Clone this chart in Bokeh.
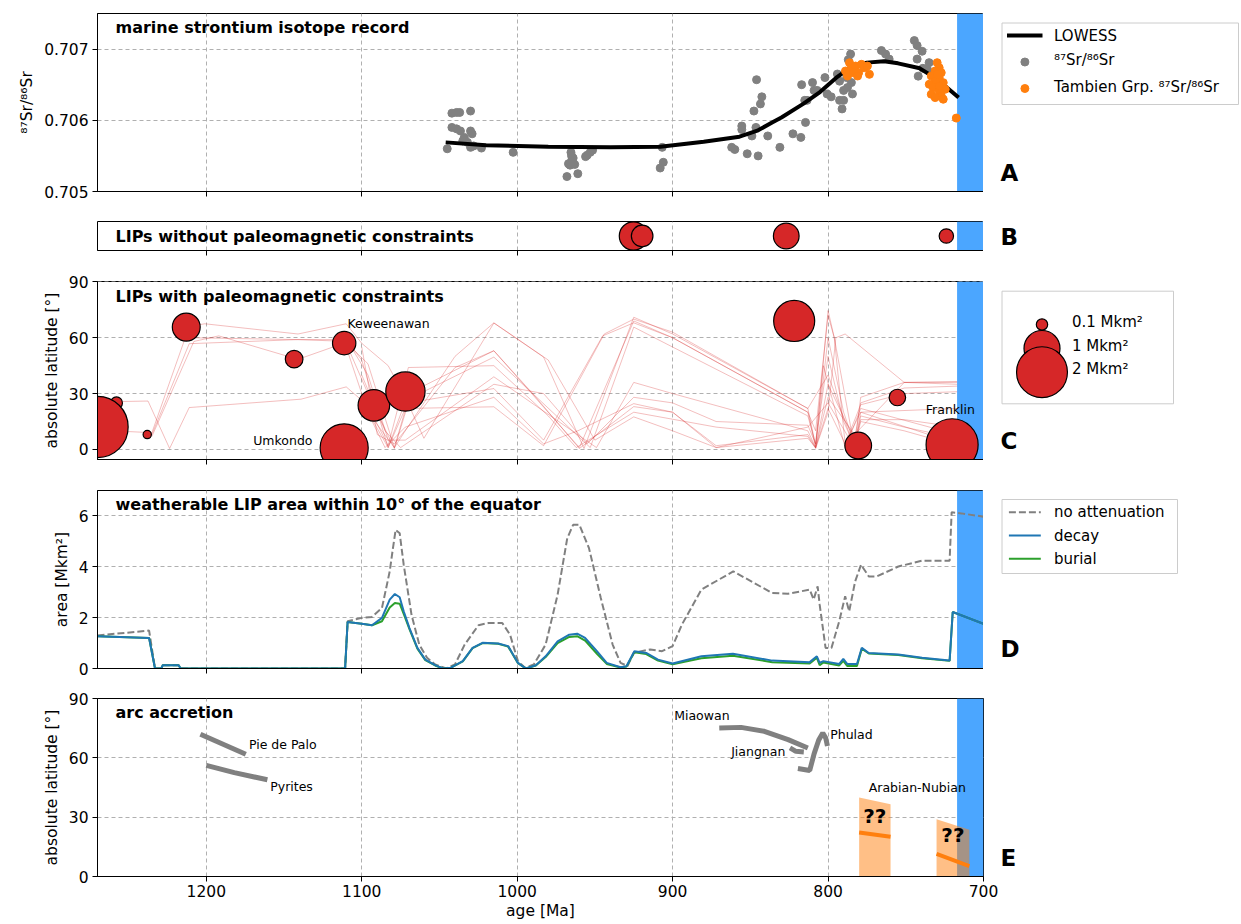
import numpy as np
from bokeh.plotting import figure
from bokeh.models import Range1d, FixedTicker, Label, BoxAnnotation
from bokeh.layouts import column, row
from bokeh.embed import file_html
from bokeh.resources import INLINE

FONT = "DejaVu Sans"
AGE_MAX, AGE_MIN = 1270, 700
AGE_TICKS = [1200, 1100, 1000, 900, 800, 700]
ICE_START, ICE_END = 717, 700
FW = 886
LEFT = 97
PAGE_W = 1241
MAIN_W = LEFT + FW

# ---------------- Panel A: strontium ----------------
lowess_age = [1046, 1020, 980, 940, 908, 880, 857, 845, 836, 830, 816, 805, 794, 785,
              775, 764, 755, 741, 730, 716]
lowess_sr = [0.70569, 0.70565, 0.70563, 0.70562, 0.70563, 0.70570, 0.70577, 0.70586,
             0.70597, 0.70604, 0.70623, 0.70640, 0.70661, 0.70675, 0.70681, 0.70683,
             0.70680, 0.70673, 0.70658, 0.70632]

sr_age = [1045, 1042, 1039, 1037, 1030, 1042, 1039, 1036.5, 1030, 1029, 1034, 1032, 1030,
          1028, 1023, 1035, 1002.6,
          968, 965.4, 965, 964, 967, 966, 963, 961, 955, 953, 951.5, 956, 965,
          906.7, 906, 908, 862, 860, 855.5, 855.5, 852, 845, 849, 846.4, 847.7, 843.5,
          842.6, 846, 838.8, 831, 822.6, 817.5, 814.5, 817, 815, 813.5, 810, 809, 807,
          802, 800.6, 798, 794, 792.6, 791, 790, 787.5, 785.5, 785, 790, 792.6, 784.3,
          787, 786, 788, 765.7, 763, 760.7, 744.5, 742.7, 739.5, 742.7, 739, 742, 736, 735]
sr_val = [0.70560, 0.70610, 0.70611, 0.70611, 0.70613, 0.70590, 0.70588, 0.70585, 0.70585,
          0.70581, 0.70576, 0.70569, 0.70562, 0.70564, 0.70561, 0.70571, 0.70555,
          0.70521, 0.70555, 0.70550, 0.70547, 0.70539, 0.70537, 0.70538, 0.70525, 0.70551,
          0.70555, 0.70558, 0.70549, 0.70543,
          0.70562, 0.70541, 0.70533, 0.70562, 0.70559, 0.70592, 0.70587, 0.70553, 0.70550,
          0.70578, 0.70590, 0.70613, 0.70623, 0.70633, 0.70657, 0.70578, 0.70562, 0.70581,
          0.70576, 0.70597, 0.70650, 0.70628, 0.70628, 0.70653, 0.70642, 0.70642, 0.70660,
          0.70637, 0.70633, 0.70665, 0.70655, 0.70616, 0.70642, 0.70646, 0.70693, 0.70653,
          0.70628, 0.70628, 0.70637, 0.70685, 0.70670, 0.70660, 0.70698, 0.70693, 0.70686,
          0.70712, 0.70705, 0.70697, 0.70686, 0.70673, 0.70662, 0.70671, 0.70681]

tam_age = [788.8, 786.2, 784.9, 782.3, 780.3, 778.5, 776.7, 774.7, 773.4, 787.5, 783.6, 781.0,
           729.8, 728.5, 731.1, 727.2, 733.6, 728.5, 731.1, 725.9, 734.9, 732.4, 724.6,
           728.5, 733.6, 727.2, 731.1, 725.9, 728.5, 729.8, 717.5]
tam_val = [0.706692, 0.706808, 0.706739, 0.706762, 0.706669, 0.706786, 0.706739, 0.706762,
           0.706646, 0.706622, 0.706669, 0.706622,
           0.706809, 0.706739, 0.706692, 0.706669, 0.706622, 0.706599, 0.706552, 0.706529,
           0.706506, 0.706459, 0.706436, 0.706413, 0.706366, 0.706343, 0.706319, 0.706296,
           0.706483, 0.706646, 0.706031]

legA_labels = ["LOWESS", "⁸⁷Sr/⁸⁶Sr", "Tambien Grp. ⁸⁷Sr/⁸⁶Sr"]

# ---------------- Panel B: LIPs without paleomag ----------------
lipB_age = [925.2, 919.6, 826.9, 723.9]
lipB_area = [0.62, 0.36, 0.51, 0.16]

# ---------------- Panel C: LIPs with paleomag ----------------
lipC_age = [1257.8, 1270, 1238, 1212.9, 1143.5, 1111.3, 1111.3, 1092.2, 1071.9,
            821.8, 780.6, 755.4, 720.2]
lipC_lat = [25, 12.1, 8, 65.7, 48.5, 57.1, 0.9, 23.7, 31.1, 69, 2.1, 27.9, 2.5]
lipC_area = [0.11, 2.9, 0.053, 0.6, 0.24, 0.42, 1.78, 0.77, 1.19, 1.30, 0.55, 0.21, 2.09]

path_age = [
    [1270, 1237.5, 1223.6, 1211, 1139, 1110, 1100, 1085, 1072, 1015, 983, 961, 925, 900, 872, 813, 808, 800, 789, 779, 751, 717],
    [1270, 1235, 1211, 1201, 1141, 1110, 1100, 1083, 1072, 1060, 1015, 983, 957, 925, 900, 813, 808, 800, 796, 783, 779, 751, 717],
    [1235, 1211, 1141, 1110, 1100, 1083, 1070, 1015, 960, 925, 900, 813, 808, 800, 790, 783, 779, 751, 717],
    [1235, 1208, 1192, 1141, 1110, 1096, 1079, 1070, 1015, 953, 925, 900, 813, 808, 803, 789, 779, 717],
    [1211, 1141, 1109, 1096, 1083, 1072, 1015, 949, 925, 900, 813, 808, 800, 783, 779, 751, 717],
    [1110, 1096, 1079, 1070, 1015, 983, 945, 925, 900, 813, 808, 800, 796, 789, 779, 717],
    [1110, 1096, 1083, 1072, 1015, 983, 944, 925, 900, 813, 800, 783, 779, 751, 717],
    [1100, 1090, 1079, 1040, 1015, 990, 960, 925, 900, 872, 813, 808, 800, 783, 751, 717],
    [1100, 1083, 1070, 1015, 980, 962, 925, 872, 813, 808, 800, 795, 789, 751, 717],
    [1096, 1079, 1072, 1040, 1015, 980, 950, 944, 925, 900, 872, 813, 800, 783, 779, 751, 717],
    [1100, 1085, 1075, 1015, 983, 955, 925, 900, 872, 813, 808, 800, 790, 783, 779, 717],
]
path_lat = [
    [25.5, 26, 0.5, 22.5, 27, 33.6, 26.4, 1, 12, 28, 3, 10, 24.6, 20, 2, 8, 1, 22, 3, 24, 30, 31],
    [10.4, 9, 66, 67.5, 62, 67.5, 57, 45, 28, 6, 67.9, 49.6, 0.5, 71, 62, 22, 2, 74.6, 60, 1, 28, 36, 36.5],
    [8, 56.8, 59, 59, 48, 1, 30, 53, 1, 69, 60, 20, 1, 60, 20, 3, 16, 16, 12],
    [7, 58, 61, 48.4, 57.5, 46, 1, 27, 49.6, 1, 65.7, 55, 18, 3, 45, 1, 22, 8],
    [60, 59, 58, 40, 5, 5, 39, 1, 36, 30, 10, 1, 35, 5, 25, 33, 34],
    [57, 30, 0.5, 25, 32.7, 5, 61, 68, 60, 20, 10, 72, 60, 3, 20, 3],
    [55, 20, 1, 22, 22.9, 2, 62, 70, 63, 22, 40, 1, 18, 12, 6],
    [55, 8, 3, 44, 53, 30, 0.5, 23, 20, 1, 6, 1, 28, 8, 36, 36],
    [30, 2, 44, 45, 18, 1, 20, 12, 7, 0.5, 20, 60, 62, 36, 35],
    [20, 1, 10, 50, 68, 48, 5, 8, 17.5, 10, 1, 12, 25, 1, 15, 10, 2],
    [40, 10, 1, 35, 30, 3, 28, 25, 15, 13, 3, 50, 15, 2, 20, 22],
]

size_key_area = [0.1, 1, 2]
size_key_label = ["0.1 Mkm²", "1 Mkm²", "2 Mkm²"]

# ---------------- Panel D: weatherable area ----------------
noatt_age = [1270, 1236.8, 1233, 1229, 1228, 1217.8, 1216.5, 1110.7, 1109.1, 1100, 1093.4, 1087,
             1082, 1080, 1078.2, 1075.6, 1073, 1068, 1063, 1058, 1052.8, 1045.7, 1040, 1033.8,
             1024.9, 1018.5, 1009.6, 1004.6, 999.5, 995, 989.3, 981.7, 974, 967.8, 964, 960,
             953.8, 946.2, 938.6, 933.5, 929, 925, 914.4, 906.8, 900, 894, 881.5, 861, 836,
             825.7, 811.8, 809.3, 806.7, 805.4, 801.6, 797.8, 792.8, 789, 786.4, 782.6, 778.8,
             773.8, 768.7, 754.8, 739.5, 721.8, 720.5, 714.2, 700]
noatt_val = [1.30, 1.49, 0.0, 0.0, 0.13, 0.13, 0.0, 0.0, 1.86, 1.99, 2.03, 2.38,
             3.82, 4.70, 5.45, 5.32, 4.08, 2.12, 0.94, 0.42, 0.16, 0.0, 0.16, 0.94,
             1.70, 1.79, 1.79, 1.33, 0.29, 0.03, 0.16, 0.94, 2.90, 5.12, 5.65, 5.65,
             4.73, 2.77, 0.94, 0.22, 0.10, 0.62, 0.75, 0.68, 0.88, 1.73, 3.10, 3.82, 2.97,
             2.94, 3.10, 2.71, 3.23, 2.51, 0.81, 0.81, 1.86, 2.84, 2.25, 3.42, 4.08,
             3.62, 3.62, 4.01, 4.24, 4.24, 6.14, 6.10, 5.97]

decay_age = [1270, 1236.8, 1233, 1229, 1228, 1217.8, 1216.5, 1110.7, 1109.1, 1100, 1093.4, 1087,
             1082, 1078.7, 1075.6, 1073, 1069.3, 1064.2, 1059.1, 1052.8, 1047.7, 1042.6, 1035,
             1028.7, 1022.3, 1012.2, 1005.8, 999.5, 994.4, 988, 981.7, 974, 966.5, 961.4, 956.3,
             948.7, 942.4, 933.5, 929.7, 924.6, 917, 909.4, 900, 881.5, 861.2, 835.9, 811.8,
             807.2, 805.4, 803, 792.8, 790.2, 787.7, 781.4, 778.3, 773.8, 754.8, 739.5, 721.8,
             719.8, 700]
decay_val = [1.27, 1.20, 0.0, 0.0, 0.13, 0.13, 0.0, 0.0, 1.83, 1.76, 1.70, 1.99,
             2.71, 2.93, 2.80, 2.25, 1.59, 0.81, 0.35, 0.13, 0.0, 0.03, 0.29,
             0.81, 1.01, 0.98, 0.88, 0.22, 0.0, 0.13, 0.48, 1.07, 1.33, 1.37, 1.20,
             0.68, 0.22, 0.05, 0.09, 0.68, 0.61, 0.35, 0.20, 0.48, 0.58, 0.31, 0.25,
             0.48, 0.22, 0.29, 0.18, 0.38, 0.18, 0.18, 0.81, 0.61, 0.55, 0.42, 0.31,
             2.22, 1.76]
burial_val = [1.27, 1.20, 0.0, 0.0, 0.13, 0.13, 0.0, 0.0, 1.83, 1.76, 1.70, 1.86,
              2.40, 2.58, 2.55, 2.15, 1.55, 0.78, 0.33, 0.12, 0.0, 0.03, 0.28,
              0.80, 1.00, 0.97, 0.86, 0.21, 0.0, 0.12, 0.45, 1.00, 1.24, 1.27, 1.10,
              0.58, 0.18, 0.04, 0.08, 0.64, 0.57, 0.31, 0.17, 0.40, 0.50, 0.25, 0.20,
              0.42, 0.13, 0.24, 0.12, 0.30, 0.10, 0.10, 0.78, 0.59, 0.53, 0.40, 0.30,
              2.22, 1.76]
legD_labels = ["no attenuation", "decay", "burial"]

# ---------------- Panel E: arc accretion ----------------
arc_names = ["Pie de Palo", "Pyrites", "Miaowan", "Jiangnan", "Phulad"]
arc_age = [[1203.8, 1174.6], [1200, 1182, 1160.7], [870, 856, 841, 825.7, 813],
           [824.5, 820.7, 815.6], [819.4, 811.8, 809, 806, 803.4, 801.5, 800.4]]
arc_lat = [[71.9, 61.8], [56.2, 52.5, 48.9], [75.1, 75.4, 73.4, 69.2, 65],
           [65, 63.3, 63], [54.6, 53.6, 62, 69, 72.6, 70, 66]]
an_age_old = [780, 730.2]
an_age_young = [759.8, 709.1]
an_top_old = [39.9, 29.0]
an_top_young = [36.5, 23.6]
an_lat_old = [22.3, 11.4]
an_lat_young = [20.1, 5.2]

# ---------------- styling constants ----------------
TICK_FS = "15.5px"
AXLAB_FS = "15.5px"
TITLE_FS = "16px"
LEG_FS = "15px"
NOTE_FS = "12.5px"
LETTER_FS = "23px"
GRAY = "#808080"
ORANGE = "#ff7f0e"
RED = "#d62728"
BLUE = "#1f77b4"
GREEN = "#2ca02c"
ICE = "#4ba6ff"


def size_from_area(a):
    return list(36.0 * np.sqrt(np.asarray(a, dtype=float)))


def xpx(px):
    return AGE_MAX + (AGE_MIN - AGE_MAX) * px / FW


def ypx(ylo, yhi, fh, px_from_top):
    return yhi - (yhi - ylo) * px_from_top / fh


def make_fig(fh, ylo, yhi, top, bottom, right=0, show_x=False, yticks=None):
    p = figure(frame_width=FW, frame_height=fh, title=None,
               x_range=Range1d(AGE_MAX, AGE_MIN), y_range=Range1d(ylo, yhi),
               min_border_left=LEFT, min_border_right=right,
               min_border_top=top, min_border_bottom=bottom,
               toolbar_location=None, output_backend="svg")
    p.outline_line_color = "black"
    p.outline_line_width = 1
    p.outline_line_alpha = 1
    p.xaxis.ticker = FixedTicker(ticks=AGE_TICKS)
    if yticks is not None:
        p.yaxis.ticker = FixedTicker(ticks=yticks)
    for ax in p.axis:
        ax.major_tick_out = 5
        ax.major_tick_in = 0
        ax.minor_tick_out = 0
        ax.minor_tick_in = 0
        ax.axis_line_color = "black"
        ax.major_tick_line_color = "black"
        ax.major_label_text_font = FONT
        ax.major_label_text_font_size = TICK_FS
        ax.major_label_text_color = "black"
        ax.axis_label_text_font = FONT
        ax.axis_label_text_font_size = AXLAB_FS
        ax.axis_label_text_font_style = "normal"
        ax.axis_label_text_color = "black"
        ax.major_label_standoff = 4
    if not show_x:
        p.xaxis.major_label_overrides = {t: "" for t in AGE_TICKS}
        p.xaxis.major_label_standoff = 0
    p.grid.grid_line_color = "#b0b0b0"
    p.grid.grid_line_dash = "4 3"
    p.grid.grid_line_width = 1
    band = BoxAnnotation(left=ICE_END, right=ICE_START, fill_color=ICE,
                         fill_alpha=1, line_color=None, level="underlay")
    p.add_layout(band)
    return p


def make_side(width, fh, top, bottom):
    # side panel whose frame lines up with the neighbouring plot frame;
    # coordinates are pixels, y measured upward from the frame bottom
    s = figure(frame_width=width, frame_height=fh, title=None,
               x_range=Range1d(0, width), y_range=Range1d(0, fh),
               x_axis_type=None, y_axis_type=None,
               min_border_left=0, min_border_right=0,
               min_border_top=top, min_border_bottom=bottom,
               toolbar_location=None, output_backend="svg")
    s.outline_line_color = None
    s.grid.visible = False
    s.tags = [fh]
    return s


def fy(s, from_top):
    return s.tags[0] - from_top


def side_text(s, x, from_top, text, size=LEG_FS, bold=False):
    s.add_layout(Label(x=x, y=fy(s, from_top), text=text, text_font=FONT,
                       text_font_size=size, text_font_style="bold" if bold else "normal",
                       text_baseline="middle", text_color="black"))


def add_title(p, text, ylo, yhi, fh, from_top=14):
    p.add_layout(Label(x=xpx(18), y=ypx(ylo, yhi, fh, from_top), text=text, text_font=FONT,
                       text_font_size=TITLE_FS, text_font_style="bold",
                       text_baseline="middle", text_color="black"))


def add_note(p, x, y, text, align="left", size=NOTE_FS, bold=False):
    p.add_layout(Label(x=x, y=y, text=text, text_font=FONT, text_font_size=size,
                       text_font_style="bold" if bold else "normal",
                       text_align=align, text_baseline="middle", text_color="black"))


def legend_box(s, left, right, top_ft, bottom_ft):
    s.quad(left=[left], right=[right], top=[fy(s, top_ft)], bottom=[fy(s, bottom_ft)],
           fill_color="white", line_color="#cccccc", line_width=1)


SIDE_W = PAGE_W - MAIN_W

# ---------------- Panel A ----------------
A_LO, A_HI, A_FH = 0.705, 0.7075, 178
pA = make_fig(A_FH, A_LO, A_HI, top=13, bottom=15, yticks=[0.705, 0.706, 0.707])
pA.yaxis.axis_label = "⁸⁷Sr/⁸⁶Sr"
pA.scatter(sr_age, sr_val, size=8, fill_color=GRAY, line_color=GRAY)
pA.line(lowess_age, lowess_sr, line_color="black", line_width=4)
pA.scatter(tam_age, tam_val, size=8, fill_color=ORANGE, line_color=ORANGE)
add_title(pA, "marine strontium isotope record", A_LO, A_HI, A_FH)

sA = make_side(SIDE_W, A_FH, 13, 15)
legend_box(sA, 18.5, 255, 9.5, 91)
rowsA = [22 + 26.5 * i for i in range(3)]
sA.line([23.5, 59], [fy(sA, rowsA[0])] * 2, line_color="black", line_width=4)
sA.scatter([41.4], [fy(sA, rowsA[1])], size=8, fill_color=GRAY, line_color=GRAY)
sA.scatter([41.4], [fy(sA, rowsA[2])], size=8, fill_color=ORANGE, line_color=ORANGE)
for i, lab in enumerate(legA_labels):
    side_text(sA, 70.5, rowsA[i] - (2 if i else 0), lab)
side_text(sA, 17, 159, "A", size=LETTER_FS, bold=True)

# ---------------- Panel B ----------------
B_LO, B_HI, B_FH = -1, 1, 29
pB = make_fig(B_FH, B_LO, B_HI, top=15, bottom=15)
pB.yaxis.visible = False
pB.ygrid.visible = False
pB.scatter(lipB_age, [0] * len(lipB_age), size=size_from_area(lipB_area),
           fill_color=RED, line_color="black", line_width=1.2)
pB.add_layout(Label(x=xpx(18), y=0, text="LIPs without paleomagnetic constraints",
                    text_font=FONT, text_font_size=TITLE_FS, text_font_style="bold",
                    text_baseline="middle", text_color="black"))
sB = make_side(SIDE_W, B_FH, 15, 15)
side_text(sB, 17, 15, "B", size=LETTER_FS, bold=True)

# ---------------- Panel C ----------------
C_LO, C_HI, C_FH = -5.4, 90.2, 178
pC = make_fig(C_FH, C_LO, C_HI, top=16, bottom=15, yticks=[0, 30, 60, 90])
pC.yaxis.axis_label = "absolute latitude [°]"
pC.multi_line(path_age, path_lat, line_color=RED, line_alpha=0.3, line_width=1)
pC.scatter(lipC_age, lipC_lat, size=size_from_area(lipC_area),
           fill_color=RED, line_color="black", line_width=1.2)
add_title(pC, "LIPs with paleomagnetic constraints", C_LO, C_HI, C_FH, from_top=15)
add_note(pC, 1109.2, 67.5, "Keweenawan")
add_note(pC, 1131.7, 4.8, "Umkondo", align="right")
add_note(pC, 721.3, 21.4, "Franklin", align="center")

sC = make_side(SIDE_W, C_FH, 16, 15)
legend_box(sC, 18.5, 190, 9.7, 122.3)
rowsC = [43, 67, 90.7]
sC.scatter([58.5] * 3, [fy(sC, r) for r in rowsC], size=size_from_area(size_key_area),
           fill_color=RED, line_color="black", line_width=1.2)
for i, lab in enumerate(size_key_label):
    side_text(sC, 88.4, rowsC[i] - 3, lab)
side_text(sC, 17, 159, "C", size=LETTER_FS, bold=True)

# ---------------- Panel D ----------------
D_LO, D_HI, D_FH = 0, 7, 178
pD = make_fig(D_FH, D_LO, D_HI, top=16, bottom=15, yticks=[0, 2, 4, 6])
pD.yaxis.axis_label = "area [Mkm²]"
pD.line(noatt_age, noatt_val, line_color=GRAY, line_width=2, line_dash="7 3")
pD.line(decay_age, burial_val, line_color=GREEN, line_width=2)
pD.line(decay_age, decay_val, line_color=BLUE, line_width=2)
add_title(pD, "weatherable LIP area within 10° of the equator", D_LO, D_HI, D_FH)

sD = make_side(SIDE_W, D_FH, 16, 15)
legend_box(sD, 18.5, 194, 9, 83)
rowsD = [21.7, 45, 68.3]
legD_styles = [(GRAY, "7 3"), (BLUE, "solid"), (GREEN, "solid")]
for r, (col, dash) in zip(rowsD, legD_styles):
    sD.line([25.4, 57.3], [fy(sD, r)] * 2, line_color=col, line_width=2, line_dash=dash)
for i, lab in enumerate(legD_labels):
    side_text(sD, 70.5, rowsD[i], lab)
side_text(sD, 17, 158, "D", size=LETTER_FS, bold=True)

# ---------------- Panel E ----------------
E_LO, E_HI, E_FH = 0, 90, 178
E_RIGHT = 16
pE = make_fig(E_FH, E_LO, E_HI, top=15, bottom=48, right=E_RIGHT, show_x=True,
              yticks=[0, 30, 60, 90])
pE.yaxis.axis_label = "absolute latitude [°]"
pE.xaxis.axis_label = "age [Ma]"
pE.xaxis.major_label_standoff = 3
pE.xaxis.axis_label_standoff = 2
pE.multi_line(arc_age, arc_lat, line_color=GRAY, line_width=5)
an_xs = [[o, y, y, o] for o, y in zip(an_age_old, an_age_young)]
an_ys = [[to, ty, 0, 0] for to, ty in zip(an_top_old, an_top_young)]
pE.patches(an_xs, an_ys, fill_color=ORANGE, fill_alpha=0.5, line_color=None)
pE.multi_line([[o, y] for o, y in zip(an_age_old, an_age_young)],
              [[a, b] for a, b in zip(an_lat_old, an_lat_young)],
              line_color=ORANGE, line_width=4)
add_title(pE, "arc accretion", E_LO, E_HI, E_FH)
add_note(pE, 1172.6, 66.8, arc_names[0])
add_note(pE, 1158.9, 45.3, arc_names[1])
add_note(pE, 899.0, 81.3, arc_names[2])
add_note(pE, 827.5, 63.0, arc_names[3], align="right")
add_note(pE, 798.6, 72.0, arc_names[4])
add_note(pE, 742.6, 45.2, "Arabian-Nubian", align="center")
for o, y, to, ty in zip(an_age_old, an_age_young, an_top_old, an_top_young):
    add_note(pE, (o + y) / 2, 0.8 * (to + ty) / 2, "??", align="center", size="20px", bold=True)

sE = make_side(SIDE_W - E_RIGHT, E_FH, 15, 48)
side_text(sE, 17 - E_RIGHT, 159, "E", size=LETTER_FS, bold=True)

layout = column(row(pA, sA), row(pB, sB), row(pC, sC), row(pD, sD), row(pE, sE))
open("out.html", "w").write(file_html(layout, INLINE))
